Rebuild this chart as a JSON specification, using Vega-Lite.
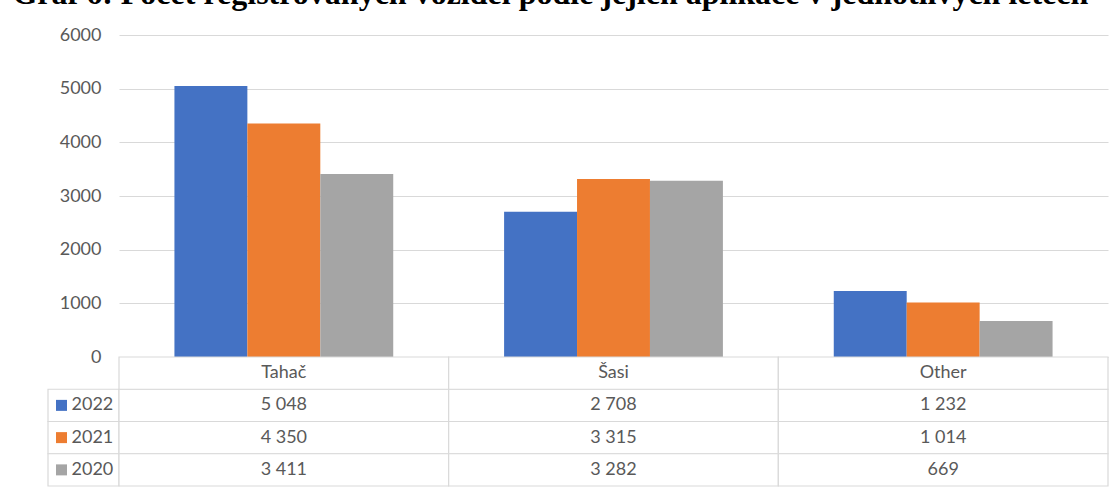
{
  "$schema": "https://vega.github.io/schema/vega-lite/v6.json",
  "padding": {"left": 12, "top": -22, "right": 0, "bottom": 0},
  "background": "white",
  "title": {
    "text": "Graf 6: Počet registrovaných vozidel podle jejich aplikace v jednotlivých letech",
    "anchor": "start",
    "dx": -35,
    "offset": 15,
    "font": "Liberation Serif",
    "fontSize": 32,
    "fontWeight": "bold",
    "color": "#000000"
  },
  "datasets": {
    "registrations": [
      {"category": "Tahač", "year": "2022", "count": 5048},
      {"category": "Tahač", "year": "2021", "count": 4350},
      {"category": "Tahač", "year": "2020", "count": 3411},
      {"category": "Šasi", "year": "2022", "count": 2708},
      {"category": "Šasi", "year": "2021", "count": 3315},
      {"category": "Šasi", "year": "2020", "count": 3282},
      {"category": "Other", "year": "2022", "count": 1232},
      {"category": "Other", "year": "2021", "count": 1014},
      {"category": "Other", "year": "2020", "count": 669}
    ]
  },
  "data": {"name": "registrations"},
  "columns": 2,
  "spacing": 0,
  "bounds": "flush",
  "align": "each",
  "concat": [
    {
      "width": 71,
      "height": 322,
      "data": {"values": []},
      "mark": "text",
      "encoding": {}
    },
    {
      "width": 989,
      "height": 322,
      "mark": {"type": "bar"},
      "encoding": {
        "x": {
          "field": "category",
          "type": "nominal",
          "scale": {"domain": ["Tahač", "Šasi", "Other"], "paddingInner": 0, "paddingOuter": 0},
          "axis": null
        },
        "xOffset": {
          "field": "year",
          "type": "nominal",
          "scale": {"domain": ["2022", "2021", "2020"], "paddingInner": 0, "paddingOuter": 0.76}
        },
        "y": {
          "field": "count",
          "type": "quantitative",
          "scale": {"domain": [0, 6000], "nice": false},
          "axis": {
            "title": null,
            "values": [0, 1000, 2000, 3000, 4000, 5000, 6000],
            "format": "d",
            "domain": false,
            "ticks": false,
            "tickSize": 0,
            "labelPadding": 18,
            "labelFont": "Lato",
            "labelFontSize": 18,
            "labelColor": "#595959",
            "gridColor": "#D9D9D9",
            "gridWidth": 1
          }
        },
        "color": {
          "field": "year",
          "type": "nominal",
          "scale": {"domain": ["2022", "2021", "2020"], "range": ["#4472C4", "#ED7D31", "#A5A5A5"]},
          "legend": null
        }
      }
    },
    {
      "width": 71,
      "height": 129,
      "transform": [{"filter": "datum.category === 'Tahač'"}],
      "encoding": {
        "y": {
          "field": "year",
          "type": "nominal",
          "scale": {"domain": ["header", "2022", "2021", "2020"], "paddingInner": 0, "paddingOuter": 0},
          "axis": null
        }
      },
      "layer": [
        {"mark": {"type": "rect", "fill": "white", "stroke": "#D9D9D9", "strokeWidth": 1.2}},
        {
          "mark": {"type": "point", "shape": "square", "filled": true, "opacity": 1, "size": 121, "xOffset": -22},
          "encoding": {
            "color": {
              "field": "year",
              "type": "nominal",
              "scale": {"domain": ["2022", "2021", "2020"], "range": ["#4472C4", "#ED7D31", "#A5A5A5"]},
              "legend": null
            }
          }
        },
        {
          "mark": {"type": "text", "align": "left", "dx": -12, "font": "Lato", "fontSize": 18, "color": "#595959"},
          "encoding": {"text": {"field": "year"}}
        }
      ]
    },
    {
      "width": 989,
      "height": 129,
      "encoding": {
        "x": {
          "field": "category",
          "type": "nominal",
          "scale": {"domain": ["Tahač", "Šasi", "Other"], "paddingInner": 0, "paddingOuter": 0},
          "axis": null
        }
      },
      "layer": [
        {
          "mark": {"type": "rect", "fill": "white", "stroke": "#D9D9D9", "strokeWidth": 1.2},
          "encoding": {
            "y": {
              "field": "year",
              "type": "nominal",
              "scale": {"domain": ["header", "2022", "2021", "2020"], "paddingInner": 0, "paddingOuter": 0},
              "axis": null
            }
          }
        },
        {
          "transform": [{"filter": "datum.year === '2022'"}],
          "mark": {"type": "rect", "fill": "white", "stroke": "#D9D9D9", "strokeWidth": 1.2},
          "encoding": {"y": {"datum": "header", "type": "nominal"}}
        },
        {
          "mark": {"type": "text", "font": "Lato", "fontSize": 18, "color": "#595959"},
          "encoding": {
            "y": {"field": "year", "type": "nominal"},
            "text": {"field": "count", "type": "quantitative", "format": ",d"}
          }
        },
        {
          "transform": [{"filter": "datum.year === '2022'"}],
          "mark": {"type": "text", "font": "Lato", "fontSize": 18, "color": "#595959"},
          "encoding": {
            "y": {"datum": "header", "type": "nominal"},
            "text": {"field": "category", "type": "nominal"}
          }
        }
      ]
    }
  ],
  "config": {
    "view": {"stroke": null},
    "locale": {
      "number": {"decimal": ",", "thousands": " ", "grouping": [3], "currency": ["", " Kč"]}
    }
  }
}
